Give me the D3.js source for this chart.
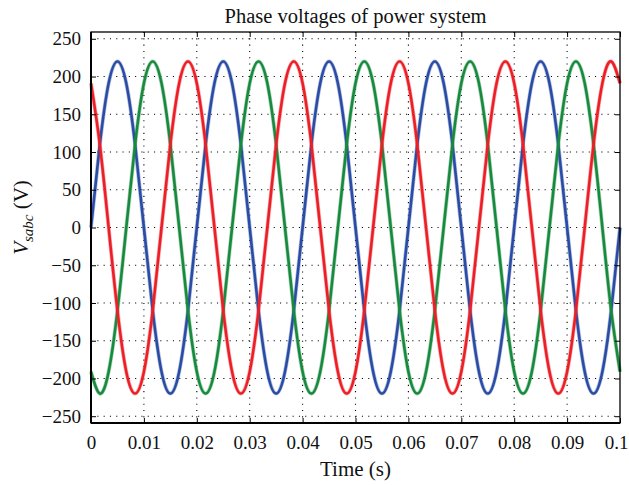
<!DOCTYPE html>
<html>
<head>
<meta charset="utf-8">
<script src="https://cdn.jsdelivr.net/npm/d3@7"></script>
<style>
  body { margin: 0; background: #fff; }
  svg text { font-family: "Liberation Serif", "DejaVu Serif", serif; fill: #111; }
</style>
</head>
<body>
<div id="chart"></div>
<script>
// samples every 1/600 s (30 degrees of the 50 Hz wave)
const sampleStep = 0.1 / 60
const phaseA = [0, 110, 191, 220, 191, 110, 0, -110, -191, -220, -191, -110,
  0, 110, 191, 220, 191, 110, 0, -110, -191, -220, -191, -110,
  0, 110, 191, 220, 191, 110, 0, -110, -191, -220, -191, -110,
  0, 110, 191, 220, 191, 110, 0, -110, -191, -220, -191, -110,
  0, 110, 191, 220, 191, 110, 0, -110, -191, -220, -191, -110, 0]
const phaseB = [-191, -220, -191, -110, 0, 110, 191, 220, 191, 110, 0, -110,
  -191, -220, -191, -110, 0, 110, 191, 220, 191, 110, 0, -110,
  -191, -220, -191, -110, 0, 110, 191, 220, 191, 110, 0, -110,
  -191, -220, -191, -110, 0, 110, 191, 220, 191, 110, 0, -110,
  -191, -220, -191, -110, 0, 110, 191, 220, 191, 110, 0, -110, -191]
const phaseC = [191, 110, 0, -110, -191, -220, -191, -110, 0, 110, 191, 220,
  191, 110, 0, -110, -191, -220, -191, -110, 0, 110, 191, 220,
  191, 110, 0, -110, -191, -220, -191, -110, 0, 110, 191, 220,
  191, 110, 0, -110, -191, -220, -191, -110, 0, 110, 191, 220,
  191, 110, 0, -110, -191, -220, -191, -110, 0, 110, 191, 220, 191]
const seriesColors = ['#2a4ca4', '#188a3e', '#ec1f27']
const xTicks = [0, 0.01, 0.02, 0.03, 0.04, 0.05, 0.06, 0.07, 0.08, 0.09, 0.1]
const yTicks = [-250, -200, -150, -100, -50, 0, 50, 100, 150, 200, 250]

const width = 629
const height = 485
const margin = { top: 32, left: 91, right: 9, bottom: 62 }
const innerW = width - margin.left - margin.right
const innerH = height - margin.top - margin.bottom

let svg = d3.select('#chart').append('svg')
  .attr('width', width)
  .attr('height', height)

let g = svg.append('g')
  .attr('transform', `translate(${margin.left}, ${margin.top})`)

let xScale = d3.scaleLinear().domain([0, 0.1]).range([0, innerW])
let yScale = d3.scaleLinear().domain([-259, 259]).range([innerH, 0])

// dotted grid
g.selectAll('.vgrid').data(xTicks.slice(1, -1)).enter().append('line')
  .attr('x1', d => xScale(d)).attr('x2', d => xScale(d))
  .attr('y1', 0).attr('y2', innerH)
  .attr('stroke', '#000').attr('stroke-width', 1.1)
  .attr('stroke-dasharray', '1.1,5.2')
g.selectAll('.hgrid').data(yTicks).enter().append('line')
  .attr('x1', 0).attr('x2', innerW)
  .attr('y1', d => yScale(d)).attr('y2', d => yScale(d))
  .attr('stroke', '#000').attr('stroke-width', 1.1)
  .attr('stroke-dasharray', '1.1,5.2')

// curves
let line = d3.line()
  .x((d, i) => xScale(i * sampleStep))
  .y(d => yScale(d))
  .curve(d3.curveNatural)

;[phaseA, phaseB, phaseC].forEach((s, i) => {
  g.append('path')
    .datum(s)
    .attr('fill', 'none')
    .attr('stroke', seriesColors[i])
    .attr('stroke-opacity', 0.35)
    .attr('stroke-width', 4)
    .attr('d', line)
  g.append('path')
    .datum(s)
    .attr('fill', 'none')
    .attr('stroke', seriesColors[i])
    .attr('stroke-width', 2.6)
    .attr('d', line)
})

// axes with inward ticks on all sides
let fmtY = d3.format('')
let xAxis = g.append('g').attr('transform', `translate(0, ${innerH})`)
  .call(d3.axisBottom(xScale).tickValues(xTicks).tickSizeInner(-5).tickSizeOuter(0).tickPadding(13).tickFormat(d => d === 0 ? '0' : String(+d.toFixed(2))))
g.append('g')
  .call(d3.axisLeft(yScale).tickValues(yTicks).tickSizeInner(-5).tickSizeOuter(0).tickPadding(10).tickFormat(fmtY))
g.append('g')
  .call(d3.axisTop(xScale).tickValues(xTicks).tickSizeInner(-5).tickSizeOuter(0).tickFormat(''))
g.append('g').attr('transform', `translate(${innerW}, 0)`)
  .call(d3.axisRight(yScale).tickValues(yTicks).tickSizeInner(-5).tickSizeOuter(0).tickFormat(''))

g.selectAll('.domain').remove()
g.selectAll('.tick line').attr('stroke', '#000').attr('stroke-width', 1)
g.selectAll('.tick text').style('font-size', '19px').attr('fill', '#111')
// last label pulled in so it stays on the page
xAxis.selectAll('.tick text').filter(d => d === 0.1).attr('text-anchor', 'end').attr('dx', 8)

// frame
g.append('rect')
  .attr('x', 0).attr('y', 0).attr('width', innerW).attr('height', innerH)
  .attr('fill', 'none').attr('stroke', '#000').attr('stroke-width', 1.3)
g.append('line').attr('x1', 0).attr('x2', 0).attr('y1', 0).attr('y2', innerH)
  .attr('stroke', '#000').attr('stroke-width', 2)
g.append('line').attr('x1', 0).attr('x2', innerW).attr('y1', innerH).attr('y2', innerH)
  .attr('stroke', '#000').attr('stroke-width', 2)

// titles
svg.append('text')
  .attr('x', margin.left + innerW / 2).attr('y', 23)
  .attr('text-anchor', 'middle')
  .style('font-size', '20.5px')
  .text('Phase voltages of power system')

svg.append('text')
  .attr('x', margin.left + innerW / 2).attr('y', 476)
  .attr('text-anchor', 'middle')
  .style('font-size', '21px')
  .text('Time (s)')

let ylab = svg.append('text')
  .attr('transform', `translate(28, ${margin.top + innerH / 2 - 10}) rotate(-90)`)
  .attr('text-anchor', 'middle')
  .style('font-size', '21px')
ylab.append('tspan').style('font-style', 'italic').text('V')
ylab.append('tspan').style('font-style', 'italic').style('font-size', '15px').attr('dy', 5).text('sabc')
ylab.append('tspan').attr('dy', -5).text(' (V)')
</script>
</body>
</html>
